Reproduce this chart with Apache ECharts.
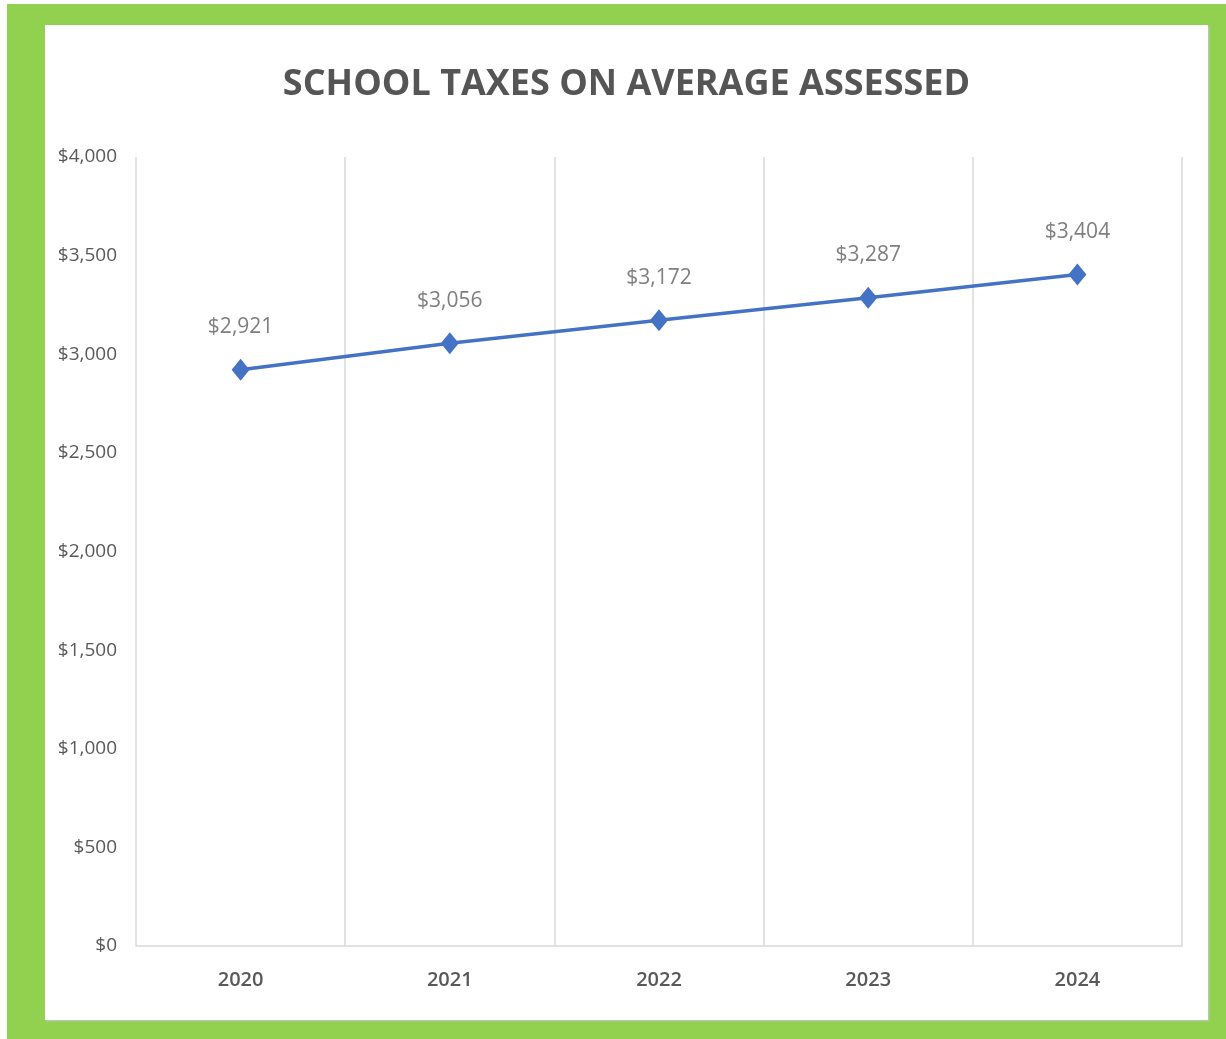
<!DOCTYPE html>
<html>
<head>
<meta charset="utf-8">
<script src="https://cdn.jsdelivr.net/npm/echarts@6/dist/echarts.min.js"></script>
<style>
    html, body { margin: 0; padding: 0; background: #fff; }
    #frame { position: absolute; left: 7px; top: 4px; width: 1219px; height: 1035px; background: #92D050; }
    #main { position: absolute; left: 45px; top: 25px; width: 1163px; height: 995px; background: #fff; box-shadow: 1px 1px 2px #c8c8c8; }
</style>
</head>
<body>
<div id="frame"></div>
<div id="main"></div>
<script>
var years = ['2020', '2021', '2022', '2023', '2024'];
var taxes = [2921, 3056, 3172, 3287, 3404];

var money = function(v) {
    return '$' + v.toLocaleString('en-US');
};

var myChart = echarts.init(document.getElementById('main'));
var option = {
    animation: false,
    title: {
        text: 'SCHOOL TAXES ON AVERAGE ASSESSED',
        left: 'center',
        top: 37,
        textStyle: {
            fontFamily: 'Open Sans',
            fontSize: 36,
            fontWeight: 'bold',
            color: '#555555'
        }
    },
    grid: {
        left: 91,
        right: 26,
        top: 132,
        bottom: 74
    },
    xAxis: {
        type: 'category',
        data: years,
        boundaryGap: true,
        axisLine: { lineStyle: { color: '#d9d9d9', width: 1.5 } },
        axisTick: { show: false },
        splitLine: { show: true, lineStyle: { color: '#d9d9d9', width: 1.5 } },
        axisLabel: {
            margin: 24,
            fontFamily: 'Open Sans',
            fontSize: 20,
            fontWeight: 600,
            color: '#595959'
        }
    },
    yAxis: {
        type: 'value',
        min: 0,
        max: 4000,
        interval: 500,
        axisLine: { show: false },
        axisTick: { show: false },
        splitLine: { show: false },
        axisLabel: {
            margin: 19,
            fontFamily: 'Open Sans',
            fontSize: 19,
            color: '#595959',
            formatter: money
        }
    },
    series: [{
        type: 'line',
        data: taxes,
        symbol: 'diamond',
        symbolSize: [18, 22],
        lineStyle: { color: '#4472C4', width: 3.5 },
        itemStyle: { color: '#4472C4' },
        label: {
            show: true,
            position: 'top',
            distance: 21,
            fontFamily: 'Open Sans',
            fontSize: 21,
            color: '#7f7f7f',
            formatter: function(p) { return money(p.value); }
        }
    }]
};
myChart.setOption(option);
</script>
</body>
</html>
